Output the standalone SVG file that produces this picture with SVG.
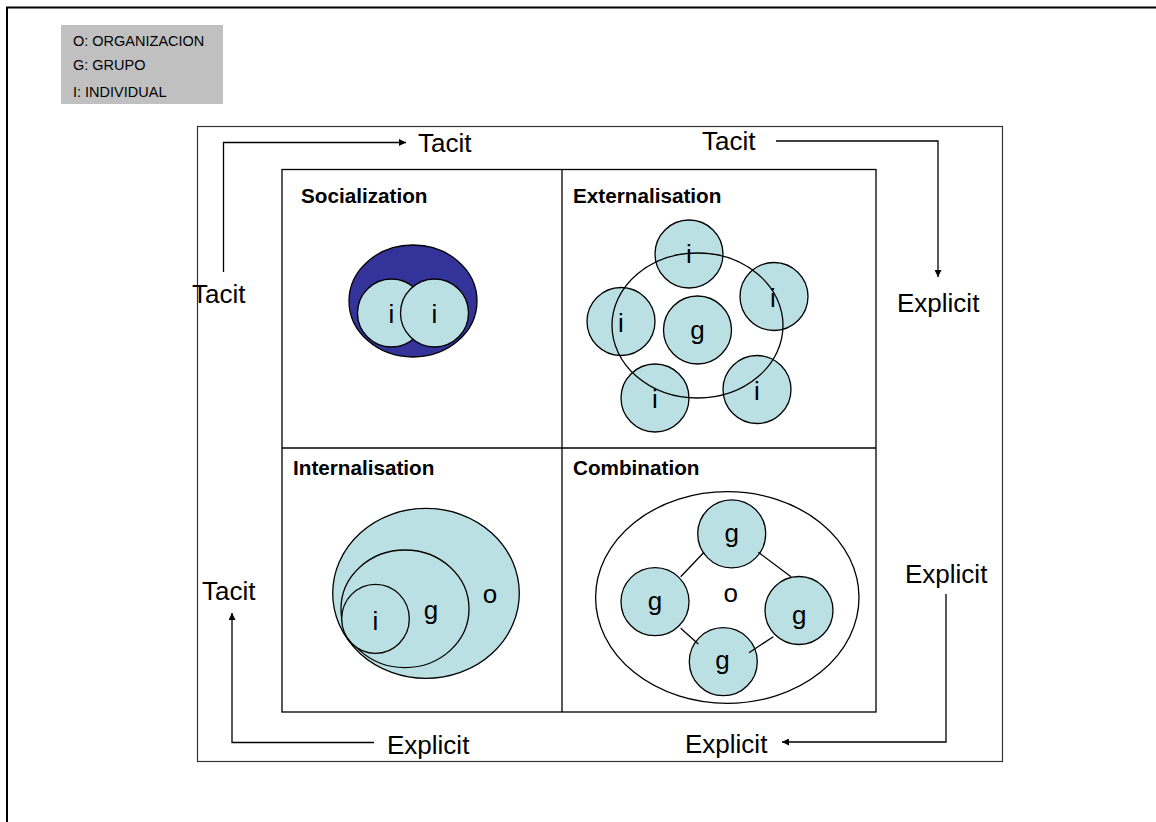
<svg xmlns="http://www.w3.org/2000/svg" width="1156" height="822" viewBox="0 0 1156 822">
<defs>
<style>
.lbl{font-family:"Liberation Sans",Arial,sans-serif;font-size:26px;fill:#000}
.ttl{font-family:"Liberation Sans",Arial,sans-serif;font-size:20.7px;font-weight:bold;fill:#000}
.leg{font-family:"Liberation Sans",Arial,sans-serif;font-size:14.5px;fill:#000}
.c{fill:#BBE0E3;stroke:#000;stroke-width:1.3}
.o{fill:none;stroke:#000;stroke-width:1.3}
.mid{text-anchor:middle}
.conn{fill:none;stroke:#000;stroke-width:1.3}
</style>
<marker id="ah" viewBox="0 0 10 10" refX="10" refY="5" markerWidth="9" markerHeight="7" markerUnits="userSpaceOnUse" orient="auto">
<path d="M0,0 L10,5 L0,10 z" fill="#000"/>
</marker>
</defs>
<rect width="1156" height="822" fill="#fff"/>
<g id="frame">
<path d="M7,822 V7.5 H1156" fill="none" stroke="#000" stroke-width="2"/>
</g>
<g id="legend">
<rect x="61" y="25" width="162" height="79" fill="#C0C0C0"/>
<text class="leg" x="73" y="45.5">O: ORGANIZACION</text>
<text class="leg" x="73" y="69.5">G: GRUPO</text>
<text class="leg" x="73" y="96.5">I: INDIVIDUAL</text>
</g>
<g id="outer-box">
<rect x="197.5" y="126.5" width="805" height="635" fill="none" stroke="#333" stroke-width="1.2"/>
</g>
<g id="grid">
<rect x="282" y="169.5" width="594" height="542.5" fill="none" stroke="#000" stroke-width="1.3"/>
<line x1="562" y1="169.5" x2="562" y2="712" stroke="#000" stroke-width="1.3"/>
<line x1="282" y1="448" x2="876" y2="448" stroke="#000" stroke-width="1.3"/>
</g>
<g id="socialization">
<text class="ttl" x="301" y="203">Socialization</text>
<ellipse cx="413" cy="301" rx="64" ry="56" fill="#333399" stroke="#000" stroke-width="1.3"/>
<circle class="c" cx="391.5" cy="313" r="34"/>
<circle class="c" cx="434.5" cy="313" r="34"/>
<text class="lbl mid" x="391.5" y="322.5">i</text>
<text class="lbl mid" x="434.5" y="322.5">i</text>
</g>
<g id="externalisation">
<text class="ttl" x="573" y="203">Externalisation</text>
<circle class="c" cx="689" cy="254" r="34"/>
<circle class="c" cx="774" cy="296.5" r="34"/>
<circle class="c" cx="621" cy="321.5" r="34"/>
<circle class="c" cx="697.5" cy="330" r="34"/>
<circle class="c" cx="655" cy="398" r="34"/>
<circle class="c" cx="757" cy="389.5" r="34"/>
<ellipse class="o" cx="697.5" cy="325.5" rx="85.5" ry="72.5"/>
<text class="lbl mid" x="689" y="262.5">i</text>
<text class="lbl mid" x="773" y="307">i</text>
<text class="lbl mid" x="621" y="332">i</text>
<text class="lbl mid" x="697.5" y="338.5">g</text>
<text class="lbl mid" x="655" y="408">i</text>
<text class="lbl mid" x="757" y="400">i</text>
</g>
<g id="internalisation">
<text class="ttl" x="293" y="475">Internalisation</text>
<ellipse class="c" cx="426" cy="593.3" rx="93.3" ry="85"/>
<ellipse class="c" cx="405" cy="608.8" rx="64" ry="58.8"/>
<ellipse class="c" cx="375.5" cy="618.8" rx="33.8" ry="34.5"/>
<text class="lbl mid" x="375.5" y="629.5">i</text>
<text class="lbl mid" x="431" y="618.5">g</text>
<text class="lbl mid" x="490" y="603">o</text>
</g>
<g id="combination">
<text class="ttl" x="573" y="475">Combination</text>
<ellipse class="o" cx="727.3" cy="597.5" rx="131.7" ry="105.8"/>
<circle class="c" cx="731.7" cy="533.8" r="34"/>
<circle class="c" cx="655" cy="601.7" r="34"/>
<circle class="c" cx="799" cy="610.5" r="34"/>
<circle class="c" cx="723.3" cy="661.7" r="34"/>
<line class="o" x1="680.7" y1="576.7" x2="704" y2="552.3"/>
<line class="o" x1="758.3" y1="552.3" x2="791" y2="576.7"/>
<line class="o" x1="680.7" y1="628.3" x2="698.3" y2="644"/>
<line class="o" x1="773.3" y1="636.7" x2="749" y2="652.7"/>
<text class="lbl mid" x="731.7" y="541.5">g</text>
<text class="lbl mid" x="655" y="610">g</text>
<text class="lbl mid" x="799.3" y="623.5">g</text>
<text class="lbl mid" x="722.5" y="668.5">g</text>
<text class="lbl mid" x="730.7" y="601.5">o</text>
</g>
<g id="connectors">
<path class="conn" d="M223.5,272 V142.5 H406" marker-end="url(#ah)"/>
<path class="conn" d="M776,141 H938 V277" marker-end="url(#ah)"/>
<path class="conn" d="M946,594 V742 H782" marker-end="url(#ah)"/>
<path class="conn" d="M374,742.5 H232 V613" marker-end="url(#ah)"/>
</g>
<g id="labels">
<text class="lbl" x="418" y="152">Tacit</text>
<text class="lbl" x="702" y="150">Tacit</text>
<text class="lbl" x="192" y="303">Tacit</text>
<text class="lbl" x="897" y="312">Explicit</text>
<text class="lbl" x="905" y="583">Explicit</text>
<text class="lbl" x="685" y="753">Explicit</text>
<text class="lbl" x="387" y="754">Explicit</text>
<text class="lbl" x="202" y="600">Tacit</text>
</g>
</svg>
